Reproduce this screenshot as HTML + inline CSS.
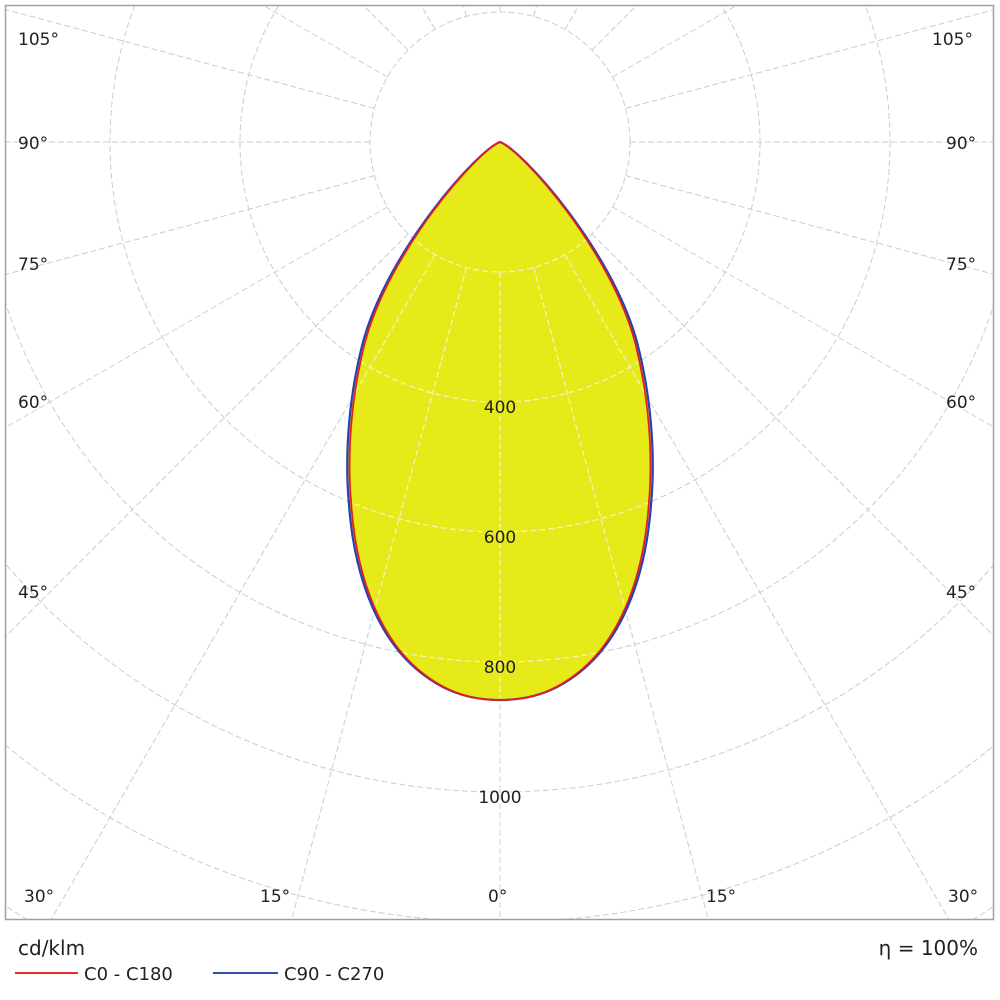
<!DOCTYPE html>
<html><head><style>html,body{margin:0;background:#fff;width:1000px;height:1000px;overflow:hidden}svg{display:block}text{font-family:"DejaVu Sans","Liberation Sans",sans-serif;fill:#222}</style></head>
<body>
<svg width="1000" height="1000" viewBox="0 0 1000 1000">
<defs>
<clipPath id="c"><rect x="6" y="6" width="987" height="913"/></clipPath>
<path id="lobe" d="M500,142 C522,150 612,250 637,342 C650,392 656,450 651,505 C645,585 618,642 580,672 C555,692 530,700 500,700 C470,700 445,692 420,672 C382,642 355,585 349,505 C344,450 350,392 363,342 C388,250 478,150 500,142 Z"/>
<clipPath id="lc"><use href="#lobe"/></clipPath>
<g id="grid">
<circle r="130"/><circle r="260"/><circle r="390"/><circle r="520"/><circle r="650"/><circle r="780"/><circle r="910"/><circle r="1040"/>
<line x1="0" y1="130" x2="0" y2="1400" transform="rotate(15)"/>
<line x1="0" y1="130" x2="0" y2="1400" transform="rotate(30)"/>
<line x1="0" y1="130" x2="0" y2="1400" transform="rotate(45)"/>
<line x1="0" y1="130" x2="0" y2="1400" transform="rotate(60)"/>
<line x1="0" y1="130" x2="0" y2="1400" transform="rotate(75)"/>
<line x1="0" y1="130" x2="0" y2="1400" transform="rotate(90)"/>
<line x1="0" y1="130" x2="0" y2="1400" transform="rotate(105)"/>
<line x1="0" y1="130" x2="0" y2="1400" transform="rotate(120)"/>
<line x1="0" y1="130" x2="0" y2="1400" transform="rotate(135)"/>
<line x1="0" y1="130" x2="0" y2="1400" transform="rotate(150)"/>
<line x1="0" y1="130" x2="0" y2="1400" transform="rotate(165)"/>
<line x1="0" y1="130" x2="0" y2="1400" transform="rotate(-15)"/>
<line x1="0" y1="130" x2="0" y2="1400" transform="rotate(-30)"/>
<line x1="0" y1="130" x2="0" y2="1400" transform="rotate(-45)"/>
<line x1="0" y1="130" x2="0" y2="1400" transform="rotate(-60)"/>
<line x1="0" y1="130" x2="0" y2="1400" transform="rotate(-75)"/>
<line x1="0" y1="130" x2="0" y2="1400" transform="rotate(-90)"/>
<line x1="0" y1="130" x2="0" y2="1400" transform="rotate(-105)"/>
<line x1="0" y1="130" x2="0" y2="1400" transform="rotate(-120)"/>
<line x1="0" y1="130" x2="0" y2="1400" transform="rotate(-135)"/>
<line x1="0" y1="130" x2="0" y2="1400" transform="rotate(-150)"/>
<line x1="0" y1="130" x2="0" y2="1400" transform="rotate(-165)"/>
<line x1="0" y1="130" x2="0" y2="1400" transform="rotate(180)"/>
</g>
</defs>
<g clip-path="url(#c)">
<g transform="translate(500,142)" stroke="#c8cdd2" stroke-width="1" stroke-dasharray="6,3" fill="none">
<use href="#grid"/>
<line x1="0" y1="130" x2="0" y2="1400" stroke="#f2c4c4"/>
</g>
<use href="#lobe" fill="#e6ea18"/>
<g clip-path="url(#lc)">
<g transform="translate(500,142)" stroke="#f2f4c0" stroke-width="1.2" stroke-dasharray="6,3" fill="none">
<use href="#grid"/>
<line x1="0" y1="130" x2="0" y2="1400"/>
</g>
</g>
<use href="#lobe" fill="none" stroke="#2840b0" stroke-width="2.2"/>
<use href="#lobe" fill="none" stroke="#e02020" stroke-width="1.8" transform="translate(500,0) scale(0.985,1) translate(-500,0)"/>
</g>
<rect x="5.5" y="5.5" width="988" height="914" fill="none" stroke="#a0a0a0" stroke-width="1.5"/>
<g font-size="17">
<text x="18" y="45">105°</text><text x="932" y="45">105°</text>
<text x="18" y="149">90°</text><text x="946" y="149">90°</text>
<text x="18" y="270">75°</text><text x="946" y="270">75°</text>
<text x="18" y="408">60°</text><text x="946" y="408">60°</text>
<text x="18" y="598">45°</text><text x="946" y="598">45°</text>
<text x="24" y="902">30°</text><text x="260" y="902">15°</text><text x="488" y="902">0°</text><text x="706" y="902">15°</text><text x="948" y="902">30°</text>
<text x="500" y="413" text-anchor="middle">400</text>
<text x="500" y="543" text-anchor="middle">600</text>
<text x="500" y="673" text-anchor="middle">800</text>
<text x="500" y="803" text-anchor="middle">1000</text>
</g>
<text x="18" y="955" font-size="20">cd/klm</text>
<text x="978" y="955" font-size="20" text-anchor="end">η = 100%</text>
<line x1="15" y1="973" x2="78" y2="973" stroke="#e03030" stroke-width="2"/>
<text x="84" y="980" font-size="18">C0 - C180</text>
<line x1="213" y1="973" x2="278" y2="973" stroke="#3050b0" stroke-width="2"/>
<text x="284" y="980" font-size="18">C90 - C270</text>
</svg>
</body></html>
